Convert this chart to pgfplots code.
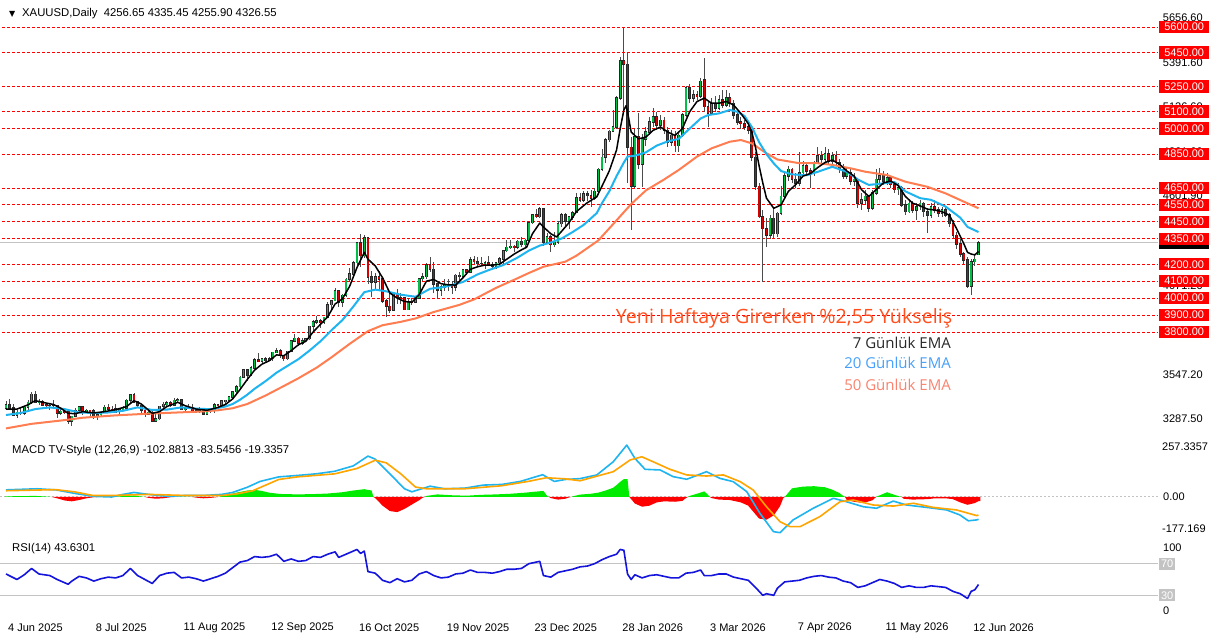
\documentclass[border=0pt]{standalone}
\usepackage{fontspec}
\setmainfont{Liberation Sans}
\newfontfamily\annfont{Open Sans}
\newfontfamily\symfont{DejaVu Sans}
\usepackage{pgfplots}
\usepackage{pgfplotstable}
\pgfplotsset{compat=1.18}
\definecolor{bull}{RGB}{0,190,70}
\definecolor{bear}{RGB}{215,0,0}
\definecolor{emaB}{RGB}{30,180,240}
\definecolor{emaC}{RGB}{255,125,80}
\definecolor{macdc}{RGB}{30,180,240}
\definecolor{sigc}{RGB}{255,165,0}
\definecolor{hpos}{RGB}{0,235,0}
\definecolor{hneg}{RGB}{255,0,0}
\definecolor{rsic}{RGB}{20,20,220}
\definecolor{lvl}{RGB}{255,0,0}
\definecolor{ann}{RGB}{255,80,30}
\definecolor{legA}{RGB}{40,40,40}
\definecolor{legB}{RGB}{70,160,250}
\definecolor{legC}{RGB}{250,130,110}
\definecolor{gridg}{RGB}{195,195,195}
\newcommand{\mtf}{\fontsize{11}{13}\selectfont}
\pgfplotsset{mt/.style={scale only axis, width=1158pt, xmin=-1.64, xmax=315.1, hide axis, clip=false, anchor=south west}}

\pgfplotstableread{
i o h l c
0 3352 3393 3343 3372
1 3372 3403 3339 3352
2 3352 3375 3307 3310
3 3310 3340 3293 3325
4 3325 3349 3308 3322
5 3322 3360 3310 3355
6 3355 3397 3340 3385
7 3385 3446 3377 3432
8 3432 3452 3384 3385
9 3385 3404 3367 3388
10 3388 3396 3363 3370
11 3370 3376 3347 3368
12 3368 3375 3340 3368
13 3368 3398 3347 3368
14 3368 3370 3295 3322
15 3322 3343 3312 3332
16 3332 3350 3315 3328
17 3328 3330 3255 3274
18 3274 3305 3248 3303
19 3303 3350 3297 3338
20 3338 3365 3330 3357
21 3357 3365 3311 3326
22 3326 3345 3320 3337
23 3337 3342 3296 3336
24 3336 3345 3287 3301
25 3301 3317 3283 3313
26 3313 3330 3305 3325
27 3325 3368 3320 3355
28 3355 3375 3340 3343
29 3343 3366 3320 3324
30 3324 3377 3320 3347
31 3347 3352 3310 3338
32 3338 3361 3332 3350
33 3350 3402 3345 3396
34 3396 3434 3383 3431
35 3431 3438 3381 3387
36 3387 3393 3351 3368
37 3368 3373 3324 3337
38 3337 3345 3301 3314
39 3314 3334 3308 3326
40 3326 3335 3268 3275
41 3275 3315 3270 3289
42 3289 3364 3281 3362
43 3362 3385 3348 3373
44 3373 3390 3358 3380
45 3380 3390 3357 3368
46 3368 3409 3365 3397
47 3397 3410 3381 3398
48 3398 3405 3340 3342
49 3342 3357 3331 3348
50 3348 3375 3346 3356
51 3356 3375 3330 3335
52 3335 3346 3323 3336
53 3336 3358 3323 3332
54 3332 3345 3311 3315
55 3315 3350 3312 3347
56 3347 3351 3324 3339
57 3339 3379 3321 3372
58 3372 3376 3351 3366
59 3366 3394 3351 3393
60 3393 3399 3374 3397
61 3397 3424 3385 3416
62 3416 3454 3404 3448
63 3448 3490 3436 3477
64 3477 3540 3470 3533
65 3533 3578 3526 3578
66 3578 3583 3511 3545
67 3545 3600 3540 3587
68 3587 3646 3579 3636
69 3636 3674 3620 3626
70 3626 3645 3615 3641
71 3641 3650 3615 3634
72 3634 3655 3628 3643
73 3643 3684 3630 3679
74 3679 3703 3675 3690
75 3690 3697 3646 3660
76 3660 3663 3628 3643
77 3643 3687 3635 3685
78 3685 3749 3683 3746
79 3746 3791 3741 3763
80 3763 3768 3717 3736
81 3736 3762 3723 3749
82 3749 3761 3738 3760
83 3760 3835 3754 3834
84 3834 3872 3793 3858
85 3858 3895 3850 3866
86 3866 3876 3821 3857
87 3857 3890 3850 3886
88 3886 3977 3880 3961
89 3961 3990 3936 3985
90 3985 4060 3980 4041
91 4041 4045 3945 3976
92 3976 4022 3947 4017
93 4017 4116 4005 4110
94 4110 4179 4100 4143
95 4143 4218 4135 4209
96 4209 4330 4200 4326
97 4326 4380 4185 4250
98 4250 4374 4236 4356
99 4356 4362 4082 4125
100 4125 4161 4004 4095
101 4095 4147 4055 4126
102 4126 4160 4048 4112
103 4112 4114 3970 3982
104 3982 3995 3887 3952
105 3952 4030 3915 3930
106 3930 4034 3925 4024
107 4024 4054 3968 4002
108 4002 4030 3963 4000
109 4000 4005 3930 3932
110 3932 3995 3928 3980
111 3980 4000 3961 3977
112 3977 4012 3970 4000
113 4000 4118 3997 4115
114 4115 4147 4100 4127
115 4127 4205 4115 4195
116 4195 4245 4152 4170
117 4170 4211 4032 4084
118 4084 4090 3997 4045
119 4045 4080 4010 4066
120 4066 4110 4040 4077
121 4077 4110 4040 4078
122 4078 4100 4022 4065
123 4065 4142 4040 4135
124 4135 4156 4105 4130
125 4130 4170 4125 4165
126 4165 4170 4135 4155
127 4155 4245 4150 4225
128 4225 4250 4200 4215
129 4215 4240 4185 4205
130 4205 4240 4195 4205
131 4205 4218 4170 4210
132 4210 4250 4195 4198
133 4198 4215 4170 4190
134 4190 4215 4172 4210
135 4210 4240 4190 4230
136 4230 4285 4195 4280
137 4280 4345 4270 4300
138 4300 4340 4290 4305
139 4305 4315 4270 4300
140 4300 4345 4290 4335
141 4335 4360 4300 4315
142 4315 4350 4300 4340
143 4340 4450 4338 4445
144 4445 4497 4435 4490
145 4490 4525 4470 4480
146 4480 4538 4475 4525
147 4525 4530 4310 4330
148 4330 4385 4320 4360
149 4360 4375 4275 4315
150 4315 4390 4300 4330
151 4330 4455 4320 4440
152 4440 4500 4420 4490
153 4490 4500 4420 4455
154 4455 4480 4410 4478
155 4478 4515 4460 4505
156 4505 4620 4500 4590
157 4590 4620 4565 4580
158 4580 4630 4570 4615
159 4615 4635 4575 4605
160 4605 4640 4535 4590
161 4590 4650 4580 4630
162 4630 4770 4620 4760
163 4760 4880 4750 4830
164 4830 4945 4800 4935
165 4935 4990 4920 4985
166 4985 5110 4980 5010
167 5010 5190 5000 5180
168 5180 5420 5170 5400
169 5400 5600 5110 5380
170 5380 5450 4680 4890
171 4890 4950 4400 4660
172 4660 5000 4650 4950
173 4950 5090 4760 4790
174 4790 4970 4656 4940
175 4940 5010 4900 4980
176 4980 5070 4960 5040
177 5040 5120 5010 5070
178 5070 5100 4990 5020
179 5020 5080 4990 5050
180 5050 5070 4970 4990
181 4990 5010 4890 4920
182 4920 4990 4900 4960
183 4960 4985 4860 4900
184 4900 4975 4860 4960
185 4960 5090 4950 5080
186 5080 5250 5070 5240
187 5240 5265 5150 5180
188 5180 5230 5160 5200
189 5200 5225 5170 5190
190 5190 5300 5180 5280
191 5290 5420 5100 5130
192 5130 5160 5010 5090
193 5090 5180 5080 5150
194 5150 5190 5100 5120
195 5120 5200 5110 5170
196 5170 5230 5120 5140
197 5140 5230 5130 5180
198 5180 5210 5130 5150
199 5150 5170 5060 5080
200 5080 5100 5020 5040
201 5040 5070 5000 5030
202 5030 5050 4990 5010
203 5010 5030 4970 4990
204 4990 5000 4810 4830
205 4830 4860 4640 4660
206 4660 4680 4470 4480
207 4480 4520 4095 4410
208 4410 4470 4300 4370
209 4370 4490 4350 4470
210 4470 4540 4350 4380
211 4380 4510 4360 4500
212 4500 4660 4490 4600
213 4600 4740 4590 4720
214 4720 4780 4690 4760
215 4760 4770 4680 4700
216 4700 4740 4650 4680
217 4680 4860 4660 4740
218 4740 4810 4720 4780
219 4780 4800 4730 4750
220 4750 4770 4650 4740
221 4740 4810 4720 4800
222 4800 4890 4790 4840
223 4840 4870 4800 4820
224 4820 4890 4800 4850
225 4850 4880 4790 4810
226 4810 4860 4790 4840
227 4840 4870 4780 4800
228 4800 4820 4740 4760
229 4760 4790 4700 4720
230 4720 4770 4700 4740
231 4740 4760 4670 4690
232 4690 4740 4660 4700
233 4700 4710 4530 4560
234 4560 4620 4520 4580
235 4580 4640 4550 4600
236 4600 4610 4510 4530
237 4530 4640 4520 4620
238 4620 4760 4610 4700
239 4700 4770 4680 4720
240 4720 4750 4670 4690
241 4690 4740 4670 4710
242 4710 4720 4650 4670
243 4670 4690 4620 4640
244 4640 4680 4610 4650
245 4650 4660 4540 4550
246 4550 4580 4490 4510
247 4510 4580 4500 4560
248 4560 4575 4500 4520
249 4520 4560 4460 4540
250 4540 4580 4520 4560
251 4560 4570 4480 4510
252 4510 4530 4385 4490
253 4490 4560 4470 4540
254 4540 4580 4500 4520
255 4520 4540 4480 4500
256 4500 4540 4480 4520
257 4520 4545 4480 4490
258 4490 4500 4420 4440
259 4440 4460 4350 4370
260 4370 4390 4290 4320
261 4320 4350 4240 4260
262 4260 4275 4200 4225
263 4225 4245 4060 4070
264 4070 4230 4018 4215
265 4215 4255 4190 4228
266 4256.65 4335.45 4255.9 4326.55
}\candles

\begin{document}
\begin{tikzpicture}
\useasboundingbox (0pt,0pt) rectangle (1210pt,640pt);
\fill[white] (0pt,0pt) rectangle (1210pt,640pt);

% ---------------- price panel ----------------
\begin{axis}[mt, at={(0pt,205pt)}, height=430pt, ymin=3192.1, ymax=5729.8]
\draw[gridg, line width=1.4pt] (axis cs:-1.64,4326.55) -- (axis cs:315.1,4326.55);
\pgfplotsinvokeforeach{5600,5450,5250,5100,5000,4850,4650,4550,4450,4350,4200,4100,4000,3900,3800}{
  \draw[lvl, line width=0.9pt, dash pattern=on 3pt off 2pt] (axis cs:-1,#1) -- (axis cs:315.1,#1);
}
% wicks
\addplot[draw=none, mark=none, error bars/.cd, y dir=both, y explicit, error mark=none,
  error bar style={draw=black!70, line width=0.8pt}]
  table[x=i, y expr={(\thisrow{h}+\thisrow{l})/2}, y error expr={(\thisrow{h}-\thisrow{l})/2}] {\candles};
% body outlines
\addplot[draw=none, mark=none, error bars/.cd, y dir=both, y explicit, error mark=none,
  error bar style={draw=black!85, line width=2.8pt}]
  table[x=i, y expr={(\thisrow{o}+\thisrow{c})/2}, y error expr={abs(\thisrow{c}-\thisrow{o})/2+4}] {\candles};
% bear fill (all)
\addplot[draw=none, mark=none, error bars/.cd, y dir=both, y explicit, error mark=none,
  error bar style={draw=bear, line width=1.4pt}]
  table[x=i, y expr={(\thisrow{o}+\thisrow{c})/2}, y error expr={abs(\thisrow{c}-\thisrow{o})/2}] {\candles};
% bull fill (up candles only)
\addplot[draw=none, mark=none, error bars/.cd, y dir=both, y explicit, error mark=none,
  error bar style={draw=bull, line width=1.4pt}]
  table[x=i, y expr={(\thisrow{o}+\thisrow{c})/2}, y error expr={max(\thisrow{c}-\thisrow{o},0)/2}] {\candles};

% EMA 50
\addplot[emaC, line width=2pt, line join=round] coordinates {
(0,3231) (7,3258) (16,3280) (21,3294) (30,3308) (39,3318) (48,3326) (53,3330) (58,3338) (62,3350) (66,3375) (71,3425) (75,3470) (80,3527) (85,3590) (89,3650) (94,3730) (99,3805) (103,3840) (108,3860) (112,3880) (117,3918) (124,3960) (128,3992) (134,4060) (140,4118) (143,4148) (147,4185) (150,4200) (153,4215) (156,4250) (159,4295) (162,4340) (166,4435) (171,4555) (175,4635) (180,4700) (184,4756) (189,4835) (193,4884) (198,4923) (201,4933) (204,4913) (208,4855) (211,4818) (217,4796) (222,4796) (226,4786) (231,4766) (235,4746) (241,4726) (246,4687) (252,4657) (257,4618) (262,4569) (266,4530)};
% EMA 20
\addplot[emaB, line width=2pt, line join=round] coordinates {
(0,3310) (4,3322) (8,3345) (12,3355) (16,3345) (20,3325) (24,3322) (28,3325) (32,3335) (36,3355) (40,3340) (44,3342) (48,3355) (52,3348) (56,3344) (60,3360) (62,3375) (64,3400) (66,3430) (68,3465) (71,3510) (74,3560) (77,3600) (80,3640) (83,3690) (86,3745) (89,3810) (92,3870) (95,3950) (98,4035) (101,4050) (104,4040) (108,4020) (112,4008) (116,4055) (120,4066) (125,4095) (129,4140) (132,4165) (136,4195) (140,4240) (143,4280) (146,4310) (149,4328) (152,4352) (155,4390) (158,4432) (161.6,4502) (163,4560) (165,4630) (167,4720) (168,4760) (169,4800) (170,4835) (172,4840) (175,4860) (178,4900) (181,4925) (184,4940) (187,5000) (190,5060) (192,5080) (195,5090) (198,5110) (200,5100) (202,5075) (204,5010) (206,4920) (208,4850) (210,4795) (212,4750) (215,4730) (219,4725) (222,4745) (226,4775) (230,4745) (233,4700) (236,4668) (240,4677) (243,4685) (246,4630) (250,4590) (253,4580) (257,4540) (261,4475) (263,4420) (266,4390)};
% EMA 7
\addplot[black, line width=1.5pt, line join=round] coordinates {
(0,3345) (3,3345) (6,3370) (8,3395) (10,3385) (13,3372) (15,3350) (17,3320) (19,3318) (21,3330) (24,3322) (27,3330) (30,3342) (33,3360) (35,3395) (37,3375) (40,3320) (42,3330) (44,3360) (47,3385) (49,3365) (52,3345) (55,3338) (58,3355) (60,3372) (62,3405) (64,3460) (66,3520) (68,3575) (70,3610) (72,3630) (74,3665) (76,3660) (78,3690) (80,3725) (82,3745) (84,3800) (86,3845) (88,3890) (90,3965) (92,3995) (94,4070) (96,4180) (98,4270) (99,4230) (101,4190) (103,4120) (105,4030) (107,4000) (109,3980) (111,3975) (113,4020) (115,4100) (117,4110) (119,4085) (121,4078) (123,4077) (125,4120) (127,4170) (129,4185) (131,4195) (133,4195) (135,4200) (137,4230) (139,4260) (141,4285) (142.4,4300) (144,4380) (146,4443) (147,4420) (149,4380) (150.6,4361) (152,4395) (154,4445) (156,4510) (158.8,4560) (161.6,4598) (163,4660) (165,4750) (167,4874) (168,5000) (169,5110) (169.6,5135) (170,5100) (171,4980) (173,4940) (175,4950) (177,4990) (179,5010) (181,4980) (183,4960) (185,5000) (187,5100) (189,5160) (191,5180) (193,5150) (195,5150) (197,5160) (199,5140) (201,5090) (203,5030) (204,4980) (205,4890) (206,4780) (207,4680) (208,4590) (210,4530) (212,4550) (214,4630) (216,4670) (218,4720) (220,4735) (222,4770) (224,4800) (226,4815) (228,4790) (230,4750) (232,4720) (234,4640) (236,4600) (238,4640) (240,4680) (242,4690) (244,4665) (246,4600) (248,4560) (250,4545) (252,4525) (254,4520) (256,4510) (258,4490) (260,4410) (262,4320) (263,4270) (264,4260) (265,4255) (266,4275)};

% right price scale
\pgfplotsinvokeforeach{5656.60,5391.60,5126.60,4861.60,4601.90,4336.60,4071.20,3547.20,3287.50}{
  \node[anchor=west, inner sep=0pt, font=\mtf] at (axis cs:316.4,#1) {#1};
}
\node[fill=black, anchor=west, inner sep=0pt, minimum width=50pt, minimum height=12pt] at (axis cs:315.37,4326.55) {};
\pgfplotsinvokeforeach{5600,5450,5250,5100,5000,4850,4650,4550,4450,4350,4200,4100,4000,3900,3800}{
  \node[fill=lvl, text=white, anchor=west, inner sep=0pt, minimum width=50pt, minimum height=12.5pt, font=\mtf] at (axis cs:315.37,#1) {#1.00};
}
\end{axis}

% ---------------- MACD panel ----------------
\begin{axis}[mt, at={(0pt,102pt)}, height=100pt, ymin=-189.6, ymax=272.8]
\draw[gridg, line width=1pt, dash pattern=on 2pt off 2pt] (axis cs:-1.64,0) -- (axis cs:315.1,0);
\addplot[fill=hpos, draw=none] coordinates {(-0.5,0) (0,3) (4,4) (8,5) (12,1) (12.5,0)};
\addplot[fill=hneg, draw=none] coordinates {(12.5,0) (14,-6) (16,-16) (18,-20) (20,-14) (22,-6) (24,-1) (25,0)};
\addplot[fill=hpos, draw=none] coordinates {(25,0) (26,1) (30,2) (33,5) (35,7) (37,2) (38,0)};
\addplot[fill=hneg, draw=none] coordinates {(38,0) (39,-4) (41,-8) (43,-6) (45,-1) (46,0)};
\addplot[fill=hpos, draw=none] coordinates {(46,0) (47,1.5) (50,1) (51,0)};
\addplot[fill=hneg, draw=none] coordinates {(51,0) (52,-3) (54,-6) (56,-4) (58,0)};
\addplot[fill=hpos, draw=none] coordinates {(58,0) (60,8) (63,20) (66,30) (68,33) (70,28) (72,20) (75,14) (80,12) (85,14) (88,16) (92,22) (95,30) (98,36) (100,30) (100.5,0)};
\addplot[fill=hneg, draw=none] coordinates {(100.5,0) (101,-5) (103,-40) (105,-65) (107,-70) (109,-55) (111,-35) (113,-15) (114,-3) (114.5,0)};
\addplot[fill=hpos, draw=none] coordinates {(114.5,0) (115,5) (118,12) (122,8) (126,6) (130,10) (134,12) (138,15) (142,20) (145,25) (147,28) (148,5) (148.5,0)};
\addplot[fill=hneg, draw=none] coordinates {(148.5,0) (149,-5) (151,-12) (153,-8) (154,-2) (154.5,0)};
\addplot[fill=hpos, draw=none] coordinates {(154.5,0) (155,3) (157,11) (160,15) (162,20) (164,30) (166,42) (167,55) (168,70) (169,83) (170,83) (170.5,0)};
\addplot[fill=hneg, draw=none] coordinates {(170.5,0) (171,-10) (172,-30) (174,-45) (176,-40) (178,-25) (180,-20) (183,-22) (185,-18) (186,-5) (186.5,0)};
\addplot[fill=hpos, draw=none] coordinates {(186.5,0) (187,5) (189,15) (191,26) (192,10) (192.5,0)};
\addplot[fill=hneg, draw=none] coordinates {(192.5,0) (193,-5) (195,-12) (198,-14) (201,-25) (203,-40) (204,-60) (206,-100) (208,-105) (210,-85) (211.7,-43) (212.6,-5) (213,0)};
\addplot[fill=hpos, draw=none] coordinates {(213,0) (213.5,10) (215,40) (218,48) (221,50) (224,45) (226,34) (228,18) (229,5) (229.5,0)};
\addplot[fill=hneg, draw=none] coordinates {(229.5,0) (230,-15) (232,-22) (234.5,-28) (237,-15) (238,0)};
\addplot[fill=hpos, draw=none] coordinates {(238,0) (238.6,5) (241,22) (243,10) (244.5,2) (245,0)};
\addplot[fill=hneg, draw=none] coordinates {(245,0) (245.5,-8) (248,-12) (252,-10) (254,-6) (257,-6) (259,-10) (261,-25) (263,-36) (265,-28) (266,-19.3) (266.5,-19.3) (266.5,0)};
% MACD line
\addplot[macdc, line width=1.6pt, line join=round] coordinates {
(0,33) (8.5,38) (13.6,33) (18.7,17) (23.8,3) (28.9,0) (32,12) (35,21) (39,12) (44,3) (49,7) (54,7) (59,12) (62,21) (66,45) (69.5,72) (74.6,93) (80,100) (84.8,107) (89.9,119) (95,144) (99,189) (101,175) (105,107) (109,38) (111,24) (116,50) (120,38) (125.5,41) (130.5,55) (135.6,58) (140.7,72) (144.8,93) (146.8,103) (150,72) (153,81) (157,85) (161.6,102) (166.1,163) (169.8,240) (172,179) (174.8,128) (178.9,125) (182.5,94) (186.2,82) (191.6,117) (195.3,86) (198.9,71) (202.6,25) (206.2,-75) (209.9,-160) (211.7,-165) (215.3,-106) (220.8,-52) (226.3,-6) (229.9,-22) (234.5,-45) (238.1,-52) (242.7,-19) (246.3,-37) (251.8,-48) (257.3,-60) (260.9,-83) (263.2,-110) (265.5,-106) (266,-102.9)};
% signal line
\addplot[sigc, line width=1.6pt, line join=round] coordinates {
(0,29) (13.6,34) (18.7,24) (23.8,7) (28.9,7) (39,12) (49,7) (59,7) (63,14) (67.5,29) (74.6,81) (79.7,93) (89.9,107) (96,132) (101,170) (104,158) (108,107) (112,46) (115,38) (125.5,38) (135.6,52) (142.8,72) (147.8,89) (153,84) (157,75) (166.1,117) (170.7,171) (173.9,186) (177,163) (181.6,128) (186.2,102) (191.6,97) (196.2,102) (200.8,71) (204.4,32) (208,-45) (211.7,-114) (214.4,-137) (217.2,-137) (222.6,-91) (228.1,-22) (231.7,-14) (237.2,-37) (242.7,-42) (248.2,-29) (253.6,-48) (260,-60) (265.5,-86) (266,-83.5)};
\end{axis}

% ---------------- RSI panel ----------------
\begin{axis}[mt, at={(0pt,21pt)}, height=79pt, ymin=0, ymax=100]
\draw[gridg, line width=1pt] (axis cs:-1.64,70) -- (axis cs:315.1,70);
\draw[gridg, line width=1pt] (axis cs:-1.64,30) -- (axis cs:315.1,30);
\addplot[rsic, line width=1.6pt, line join=round] coordinates {
(0,57) (3,50) (5,56) (7,64) (9,57) (12,55) (14,50) (17,44) (18,48) (20,54) (22,52) (24,48) (26,51) (28,53) (30,52) (32,55) (34,64) (36,55) (38,50) (40,45) (42,55) (44,58) (46,59) (48,52) (50,53) (52,51) (54,48) (56,51) (58,54) (60,58) (62,65) (64,72) (66,74) (68,79) (70,78) (72,79) (74,82) (76,73) (78,76) (80,73) (82,74) (84,79) (86,78) (88,82) (90,85) (91,78) (92,80) (94,84) (96,88) (97,83) (98,86) (99,60) (101,58) (103,49) (105,46) (107,51) (109,47) (111,49) (113,57) (115,60) (117,55) (119,52) (121,53) (123,57) (125,58) (127,62) (129,59) (131,59) (133,58) (135,60) (137,63) (139,63) (141,64) (143,70) (145,72) (146,73) (147,55) (149,53) (151,59) (153,61) (155,63) (157,66) (159,67) (161,70) (163,75) (165,79) (167,82) (168,88) (169,87) (170,57) (171,50) (172,56) (174,52) (176,55) (178,56) (180,54) (182,52) (184,52) (186,58) (188,59) (190,62) (191,55) (193,55) (195,57) (197,57) (199,53) (201,51) (203,49) (205,40) (207,30) (208,32) (210,30) (211,39) (213,47) (215,48) (217,49) (219,52) (221,54) (223,55) (225,53) (227,52) (229,48) (231,46) (233,40) (235,42) (237,46) (239,50) (241,48) (243,45) (245,40) (247,42) (249,40) (251,40) (253,42) (255,41) (257,40) (259,35) (261,32) (263,26) (264,35) (265,37) (266,43.63)};
\end{axis}

% ---------------- texts ----------------
\node[anchor=west, inner sep=0pt] at (9pt,626pt) {\symfont\fontsize{8}{9}\selectfont ▼};
\node[anchor=west, inner sep=0pt, font=\fontsize{11.3}{13}\selectfont] at (22pt,626pt) {XAUUSD,Daily\ \ 4256.65 4335.45 4255.90 4326.55};
\node[anchor=west, inner sep=0pt, font=\fontsize{11.3}{13}\selectfont] at (12pt,189pt) {MACD TV-Style (12,26,9) -102.8813 -83.5456 -19.3357};
\node[anchor=west, inner sep=0pt, font=\fontsize{11.3}{13}\selectfont] at (12pt,91pt) {RSI(14) 43.6301};

\node[text=ann, inner sep=0pt, font=\annfont\fontsize{19.7}{23}\selectfont] at (784pt,322pt) {Yeni Haftaya Girerken \%2,55 Yükseliş};
\node[text=legA, anchor=east, inner sep=0pt, font=\annfont\fontsize{15}{18}\selectfont] at (951pt,297pt) {7 Günlük EMA};
\node[text=legB, anchor=east, inner sep=0pt, font=\annfont\fontsize{15}{18}\selectfont] at (951pt,277pt) {20 Günlük EMA};
\node[text=legC, anchor=east, inner sep=0pt, font=\annfont\fontsize{15}{18}\selectfont] at (951pt,255pt) {50 Günlük EMA};

% right labels for MACD / RSI
\node[anchor=west, inner sep=0pt, font=\mtf] at (1162pt,193pt) {257.3357};
\node[anchor=west, inner sep=0pt, font=\mtf] at (1163pt,143pt) {0.00};
\node[anchor=west, inner sep=0pt, font=\mtf] at (1162pt,111pt) {-177.169};
\node[anchor=west, inner sep=0pt, font=\mtf] at (1163pt,92pt) {100};
\node[anchor=west, fill=gridg, text=white, inner sep=0pt, minimum width=16pt, minimum height=12pt, font=\mtf] at (1159pt,76.3pt) {70};
\node[anchor=west, fill=gridg, text=white, inner sep=0pt, minimum width=16pt, minimum height=12pt, font=\mtf] at (1159pt,44.7pt) {30};
\node[anchor=west, inner sep=0pt, font=\mtf] at (1163pt,29pt) {0};

% date labels
\node[anchor=west, inner sep=0pt, font=\mtf] at (8pt,12pt) {4 Jun 2025};
\node[anchor=west, inner sep=0pt, font=\mtf] at (95.7pt,12pt) {8 Jul 2025};
\node[anchor=west, inner sep=0pt, font=\mtf] at (183.5pt,12pt) {11 Aug 2025};
\node[anchor=west, inner sep=0pt, font=\mtf] at (271.2pt,12pt) {12 Sep 2025};
\node[anchor=west, inner sep=0pt, font=\mtf] at (359pt,12pt) {16 Oct 2025};
\node[anchor=west, inner sep=0pt, font=\mtf] at (446.7pt,12pt) {19 Nov 2025};
\node[anchor=west, inner sep=0pt, font=\mtf] at (534.4pt,12pt) {23 Dec 2025};
\node[anchor=west, inner sep=0pt, font=\mtf] at (622.2pt,12pt) {28 Jan 2026};
\node[anchor=west, inner sep=0pt, font=\mtf] at (709.9pt,12pt) {3 Mar 2026};
\node[anchor=west, inner sep=0pt, font=\mtf] at (797.7pt,12pt) {7 Apr 2026};
\node[anchor=west, inner sep=0pt, font=\mtf] at (885.4pt,12pt) {11 May 2026};
\node[anchor=west, inner sep=0pt, font=\mtf] at (973.1pt,12pt) {12 Jun 2026};
\end{tikzpicture}
\end{document}
